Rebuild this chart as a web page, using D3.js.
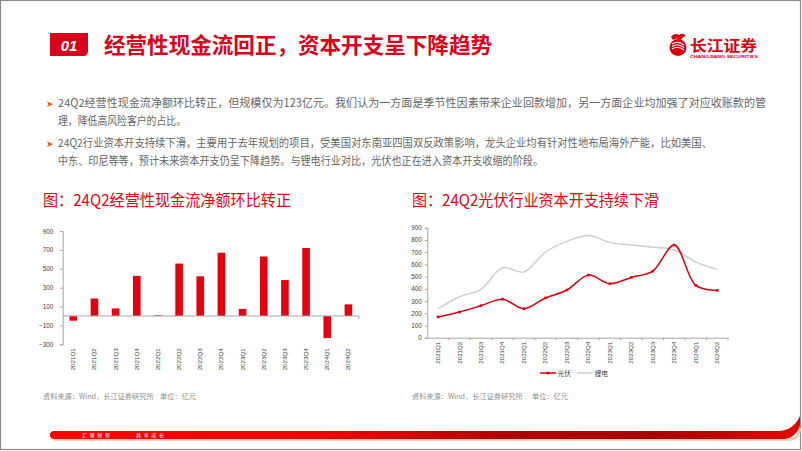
<!DOCTYPE html>
<html><head><meta charset="utf-8">
<script src="https://cdn.jsdelivr.net/npm/d3@7/dist/d3.min.js"></script>
<style>
html,body{margin:0;padding:0;background:#fff;}
svg{display:block;font-family:"Noto Sans CJK SC","Noto Sans",sans-serif;}
</style></head><body>
<svg id="c" width="802" height="451"></svg>
<script>
// ---------- data ----------
const quarters = ["2021Q1","2021Q2","2021Q3","2021Q4","2022Q1","2022Q2","2022Q3","2022Q4","2023Q1","2023Q2","2023Q3","2023Q4","2024Q1","2024Q2"];
const cashFlow = [-50,185,80,425,8,555,420,670,75,630,380,720,-235,123];
const pvCapex  = [170,210,262,315,237,325,390,512,442,493,545,758,428,387];
const liCapex  = [235,335,395,572,537,700,788,837,780,760,740,718,620,558];
const cashTicks  = [-300,-100,100,300,500,700,900];
const capexTicks = [0,100,200,300,400,500,600,700,800,900];
const seriesNames = ["光伏","锂电"];
const pageTitle = "经营性现金流回正，资本开支呈下降趋势";
const bullets = [
  ["24Q2经营性现金流净额环比转正，但规模仅为123亿元。我们认为一方面是季节性因素带来企业回款增加，另一方面企业均加强了对应收账款的管","理，降低高风险客户的占比。"],
  ["24Q2行业资本开支持续下滑，主要用于去年规划的项目，受美国对东南亚四国双反政策影响，龙头企业均有针对性地布局海外产能，比如美国、","中东、印尼等等，预计未来资本开支仍呈下降趋势。与锂电行业对比，光伏也正在进入资本开支收缩的阶段。"]
];
const chartTitles = ["图：24Q2经营性现金流净额环比转正","图：24Q2光伏行业资本开支持续下滑"];
const sourceText = "资料来源：Wind，长江证券研究所";
const unitText = "单位：亿元";

const RED = "#e60012";
const svg = d3.select("#c");

// ---------- frame ----------
svg.append("rect").attr("x",0.5).attr("y",0.5).attr("width",800).attr("height",449)
  .attr("fill","#fff").attr("stroke","#8a8a8a").attr("stroke-width",1.2);

// ---------- header ----------
svg.append("path").attr("d","M50,33 H88 V51 Q88,56 83,56 H50 Z").attr("fill","#d9001b");
svg.append("text").attr("x",69).attr("y",50.5).attr("text-anchor","middle")
  .attr("fill","#fff").attr("font-size",15).attr("font-weight",700).attr("font-style","italic")
  .attr("font-family","Liberation Sans, Arial, sans-serif").text("01");
svg.append("text").attr("x",104).attr("y",53).attr("fill","#d9001b")
  .attr("font-size",21.5).attr("font-weight",700).attr("textLength",388).attr("lengthAdjust","spacingAndGlyphs")
  .text(pageTitle);

// logo
const logo = svg.append("g");
logo.append("circle").attr("cx",678).attr("cy",47.5).attr("r",8.5).attr("fill","#d7000f");
[[-4,2],[-1.5,4],[1,6]].forEach(([dy,w])=>{
  logo.append("path").attr("d",`M${672},${48+dy} Q${678},${44+dy} ${684},${49+dy}`)
    .attr("fill","none").attr("stroke","#fff").attr("stroke-width",1.1);
});
logo.append("path").attr("d","M671,37 Q674,32 679,35 Q683,32 686,36 Q682,37 681,40 Q677,37 673,40 Z").attr("fill","#d7000f");
logo.append("text").attr("x",690).attr("y",50.5).attr("fill","#d7000f").attr("font-size",15)
  .attr("font-weight",700).attr("textLength",67).attr("lengthAdjust","spacingAndGlyphs").text("长江证券");
logo.append("text").attr("x",690).attr("y",57.8).attr("fill","#d7000f").attr("font-size",4.3)
  .attr("font-weight",700).attr("font-family","Liberation Sans, Arial, sans-serif")
  .attr("textLength",68).attr("lengthAdjust","spacingAndGlyphs").text("CHANGJIANG SECURITIES");

// bullets
const lineY = [[107,125],[147,165]];
const lineW = [[708,128],[654,485]];
bullets.forEach((b,i)=>{
  svg.append("text").attr("x",46).attr("y",lineY[i][0]-0.5).attr("fill","#e85a1e").attr("font-size",9).text("➤");
  b.forEach((ln,j)=>{
    svg.append("text").attr("x",58).attr("y",lineY[i][j]).attr("fill","#666666")
      .attr("font-size",11.2).attr("textLength",lineW[i][j]).attr("lengthAdjust","spacingAndGlyphs").text(ln);
  });
});

// chart titles
[[43,248],[412,247]].forEach(([x,w],i)=>{
  svg.append("text").attr("x",x).attr("y",206).attr("fill",RED).attr("font-size",16)
    .attr("textLength",w).attr("lengthAdjust","spacingAndGlyphs").text(chartTitles[i]);
});

// sources
[[43,160],[412,532]].forEach(([x,ux])=>{
  svg.append("text").attr("x",x).attr("y",399).attr("fill","#8c8c8c").attr("font-size",7.2).text(sourceText);
  svg.append("text").attr("x",ux).attr("y",399).attr("fill","#8c8c8c").attr("font-size",7.2).text(unitText);
});

// ---------- left chart: bars ----------
const AX = "#a6a6a6", LBL = "#404040";
const xL = d3.scaleBand().domain(quarters).range([62.7,359]).paddingInner(0.64).paddingOuter(0.32);
const yL = d3.scaleLinear().domain([-300,900]).range([344.3,231]);
const gL = svg.append("g").attr("font-family","Liberation Sans, Arial, sans-serif");
gL.selectAll("rect.bar").data(quarters).join("rect").attr("class","bar")
  .attr("x",d=>xL(d)).attr("width",xL.bandwidth())
  .attr("y",(d,i)=>yL(Math.max(0,cashFlow[i])))
  .attr("height",(d,i)=>Math.abs(yL(cashFlow[i])-yL(0)))
  .attr("fill","#e3000f");
const yAxL = d3.axisLeft(yL).tickValues(cashTicks).tickSize(2.5).tickPadding(7);
gL.append("g").attr("transform","translate(62.7,0)").call(yAxL)
  .call(g=>{g.select(".domain").attr("stroke",AX);g.selectAll(".tick line").attr("stroke",AX);
    g.selectAll("text").attr("fill",LBL).attr("font-size",6.3);});
// zero axis
gL.append("line").attr("x1",62.7).attr("x2",359).attr("y1",yL(0)).attr("y2",yL(0)).attr("stroke",AX);
gL.append("line").attr("x1",359).attr("x2",359).attr("y1",yL(0)).attr("y2",yL(0)+2.5).attr("stroke",AX);
gL.selectAll("text.xl").data(quarters).join("text").attr("class","xl")
  .attr("transform",d=>`translate(${xL(d)+xL.bandwidth()/2+2},${yL(-300)+4}) rotate(-90)`)
  .attr("text-anchor","end").attr("fill",LBL).attr("font-size",6.2).text(d=>d);

// ---------- right chart: lines ----------
const xR = d3.scaleBand().domain(quarters).range([427.3,728]);
const cx = d => xR(d)+xR.bandwidth()/2;
const yR = d3.scaleLinear().domain([0,900]).range([337.7,227.7]);
const gR = svg.append("g").attr("font-family","Liberation Sans, Arial, sans-serif");
const yAxR = d3.axisLeft(yR).tickValues(capexTicks).tickSize(2.5).tickPadding(3);
gR.append("g").attr("transform","translate(427.3,0)").call(yAxR)
  .call(g=>{g.select(".domain").attr("stroke",AX);g.selectAll(".tick line").attr("stroke",AX);
    g.selectAll("text").attr("fill",LBL).attr("font-size",6.3);});
const xAxR = d3.axisBottom(xR).tickSize(0).tickFormat("");
gR.append("g").attr("transform",`translate(0,${yR(0)})`).call(xAxR)
  .call(g=>{g.select(".domain").attr("stroke",AX);});
gR.selectAll("line.xt").data(quarters).join("line").attr("class","xt")
  .attr("x1",(d,i)=>427.3+xR.step()*(i+1)).attr("x2",(d,i)=>427.3+xR.step()*(i+1))
  .attr("y1",yR(0)).attr("y2",yR(0)+2.5).attr("stroke",AX);
gR.selectAll("text.xl").data(quarters).join("text").attr("class","xl")
  .attr("transform",d=>`translate(${cx(d)+2},${yR(0)+4}) rotate(-90)`)
  .attr("text-anchor","end").attr("fill",LBL).attr("font-size",6.2).text(d=>d);

const line = d3.line().x((v,i)=>cx(quarters[i])).y(v=>yR(v)).curve(d3.curveCatmullRom.alpha(0.5));
gR.append("path").datum(liCapex).attr("d",line).attr("fill","none").attr("stroke","#cfcfcf").attr("stroke-width",1.5);
gR.append("path").datum(pvCapex).attr("d",line).attr("fill","none").attr("stroke","#d7000f").attr("stroke-width",1.5);
gR.selectAll("rect.m").data(pvCapex).join("rect").attr("class","m")
  .attr("x",(v,i)=>cx(quarters[i])-1.3).attr("y",v=>yR(v)-1.3).attr("width",2.6).attr("height",2.6).attr("fill","#d7000f");

// legend
const lg = svg.append("g");
lg.append("line").attr("x1",540).attr("x2",556).attr("y1",373).attr("y2",373).attr("stroke","#d7000f").attr("stroke-width",1.5);
lg.append("rect").attr("x",546.7).attr("y",371.7).attr("width",2.6).attr("height",2.6).attr("fill","#d7000f");
lg.append("text").attr("x",557.5).attr("y",375.5).attr("font-size",6.8).attr("fill",LBL).text(seriesNames[0]);
lg.append("line").attr("x1",577).attr("x2",593).attr("y1",373).attr("y2",373).attr("stroke","#cfcfcf").attr("stroke-width",1.5);
lg.append("text").attr("x",594.5).attr("y",375.5).attr("font-size",6.8).attr("fill",LBL).text(seriesNames[1]);

// ---------- footer ----------
const defs = svg.append("defs");
const gr = defs.append("linearGradient").attr("id","fg").attr("x1","0%").attr("x2","100%");
[[0,"#ff0000"],[0.35,"#f20000"],[0.62,"#b00000"],[0.8,"#a80000"],[0.93,"#d00000"],[1,"#e60000"]].forEach(([o,c])=>
  gr.append("stop").attr("offset",o).attr("stop-color",c));
svg.append("path").attr("d","M54,439.5 H790 Q799,439 800,428").attr("fill","none").attr("stroke","#f6c9a6").attr("stroke-width",2.5);
svg.append("path").attr("d","M54,431 H778 Q793,431 800,416 V426 Q795,439 782,439 H54 A4,4 0 0 1 54,431 Z").attr("fill","url(#fg)");
svg.append("text").attr("x",82).attr("y",437).attr("fill","#fff").attr("font-size",5).attr("textLength",28).text("汇聚财智");
svg.append("text").attr("x",136).attr("y",437).attr("fill","#fff").attr("font-size",5).attr("textLength",28).text("共享成长");
</script>
</body></html>
